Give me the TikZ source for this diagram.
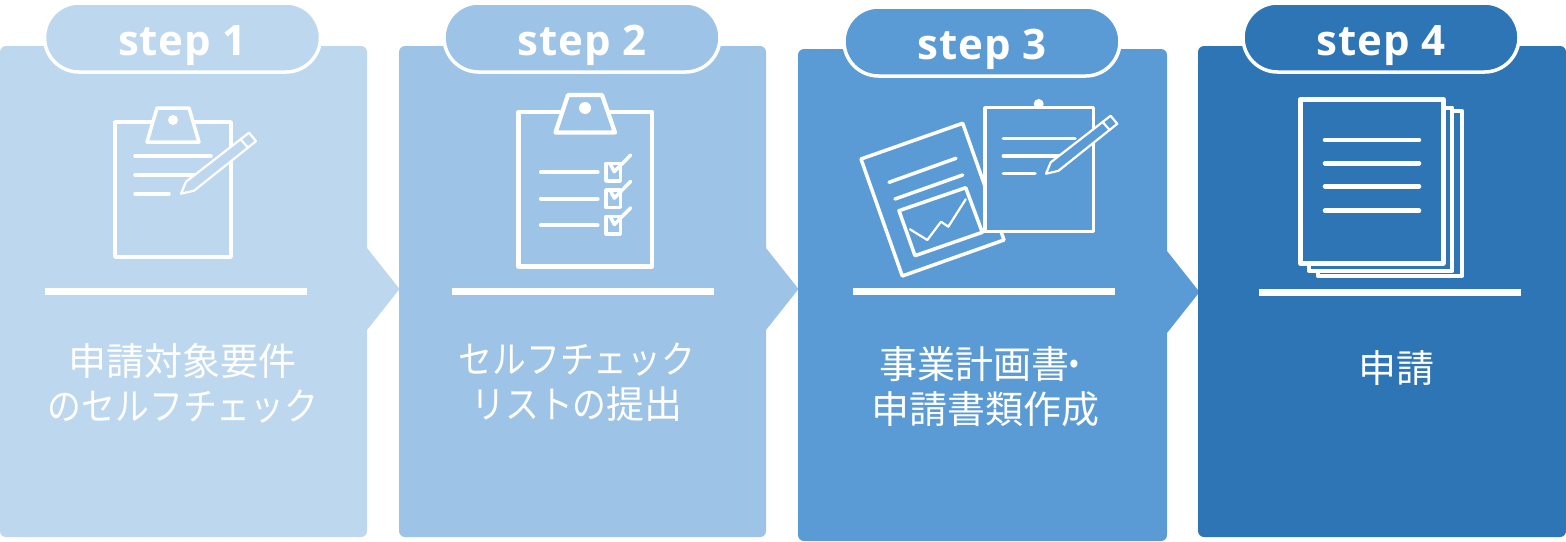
\documentclass[tikz,border=0pt]{standalone}
\usepackage{fontspec}
\usepackage{xcolor}
\usepackage{tikz}
\usetikzlibrary{shapes.misc, positioning, calc}
\setsansfont{Noto Sans}
\newfontfamily\stepfont[LetterSpace=2]{Open Sans}
\newfontfamily\cjkfont{Noto Sans CJK JP}
\newfontfamily\kanafont[FakeStretch=0.89]{Noto Sans CJK JP}
\newcommand{\kn}[1]{{\kanafont #1}}
\definecolor{stepa}{HTML}{BDD7EE}
\definecolor{stepb}{HTML}{9DC3E6}
\definecolor{stepc}{HTML}{5B9BD5}
\definecolor{stepd}{HTML}{2E75B6}
\tikzset{every node/.append style={align=center}}
\tikzset{
  pill/.style={rounded rectangle, draw=white, line width=3.5pt, minimum width=276pt, minimum height=69pt,
    inner sep=0pt, text height=35pt, text depth=0pt, text=white, font=\stepfont\bfseries\fontsize{42}{42}\selectfont},
  lbl/.style={text=white, inner sep=0pt, font=\cjkfont\fontsize{38}{45}\selectfont},
  ico/.style={draw=white, line width=3.5pt, line join=round, line cap=round},
  icoa/.style={ico, line width=4.2pt},
  icob/.style={ico, line width=4.6pt},
  thin/.style={ico, line width=2.2pt},
  pencil/.pic={
    \draw[thin, pic actions] (0,0) -- (5,-12) -- (68,-61) -- (75,-52.5) -- (13,-3) -- cycle;
    \draw[thin] (60,-54) -- (67,-46);
  }
}
\begin{document}
\begin{tikzpicture}[x=1pt, y=-1pt]
  \useasboundingbox (0,0) rectangle (1566,541);
  % panels with their arrow, rule and pill
  \foreach \px/\pr/\pt/\pb/\ar/\tint/\rx/\ry/\cx/\cy/\num in {
    0/367/46/537/289/stepa/44.5/288/182.5/37.5/1,
    399/766/46/537/289/stepb/452/288/582/37.5/2,
    798/1167/49/541/292/stepc/853/288/982/41.5/3}{
    \fill[\tint, rounded corners=6pt] (\px,\ar) -- (\px,\pt) -- (\pr,\pt) [sharp corners] -- (\pr,\ar-41)
      -- (\pr+32.5,\ar) -- (\pr,\ar+41) [rounded corners=6pt] -- (\pr,\pb) -- (\px,\pb) -- cycle;
    \fill[white] (\rx,\ry) rectangle (\rx+262,\ry+7);
    \node[pill, fill=\tint] (pill\num) at (\cx,\cy) {step \num};
  }
  \fill[stepd, rounded corners=6pt] (1198,46) rectangle (1566,537);
  \fill[white] (1259,289) rectangle (1521,296);
  \node[pill, fill=stepd] (pill4) at (1381,37.5) {step 4};
  % step 1 icon
  \draw[ico, fill=stepa] (115,122) rectangle (231,257);
  \draw[ico, fill=stepa] (157,108) -- (189,108) -- (199,142) -- (147,142) -- cycle;
  \fill[white] (173,120) circle[radius=5];
  \draw[ico] (135,156) -- (211,156) (135,175) -- (197,175) (135,194) -- (169,194);
  \pic[fill=stepa] at (181,193.7) {pencil};
  % step 2 icon
  \draw[icoa, fill=stepb] (518.5,112) rectangle (652,266.5);
  \draw[icoa, fill=stepb] (568,95) -- (602,95) -- (615,132.5) -- (555.5,132.5) -- cycle;
  \fill[white] (585,108) circle[radius=6];
  \foreach \dy in {0,26.4,52.8}{
    \draw[icoa] (541,172.3+\dy) -- (597.5,172.3+\dy);
    \draw[ico, fill=stepb] (606,163.5+\dy) rectangle (620.3,181+\dy);
    \draw[ico] (610,163.5+\dy) -- (614.3,171.7+\dy) -- (630.7,155+\dy);
  }
  % step 3 icon
  \draw[ico, fill=stepc] (861,159) -- (962.7,123.3) -- (1004,240) -- (902.3,276) -- cycle;
  \draw[ico] (889,182.3) -- (956,158.3) (895,199) -- (962.7,175);
  \draw[ico] (899,210.7) -- (965.7,187.7) -- (982.3,232.3) -- (915,255.7) -- cycle;
  \draw[thin] (910,229.3) -- (927.3,240) -- (941,221.7) -- (948.3,226.7) -- (965.7,199.3);
  \fill[white] (1038.7,104) circle[radius=5];
  \draw[ico, fill=stepc] (985,107.7) rectangle (1093.3,231.7);
  \draw[ico] (1003.3,138.3) -- (1075,138.3) (1003.3,156) -- (1062,156) (1003.3,173.7) -- (1035,173.7);
  \pic[fill=stepc, scale=.95] at (1046,173.7) {pencil};
  % step 4 icon
  \draw[icoa, fill=stepd] (1318,111) rectangle (1461.7,276);
  \draw[icoa, fill=stepd] (1309.3,107.7) rectangle (1452.3,271);
  \draw[icob, fill=stepd] (1300.3,99.3) rectangle (1443.3,263.3);
  \foreach \ly in {140,163.3,186.3,210.7}{
    \draw[icob] (1325,\ly) -- (1419,\ly);
  }
  % texts
  \node[lbl] (txta) at (183,383) {申請対象要件\\\kn{のセルフチェック}};
  \node[lbl] (txtb) at (577,382) {\kn{セルフチェック}\\\kn{リストの}提出};
  \node[lbl] (txtc) at (985,387) {事業計画書\hspace{-12pt}\kn{・}\hspace{-8pt}\\申請書類作成};
  \node[lbl] (txtd) at (1396,368) {申請};
\end{tikzpicture}
\end{document}
